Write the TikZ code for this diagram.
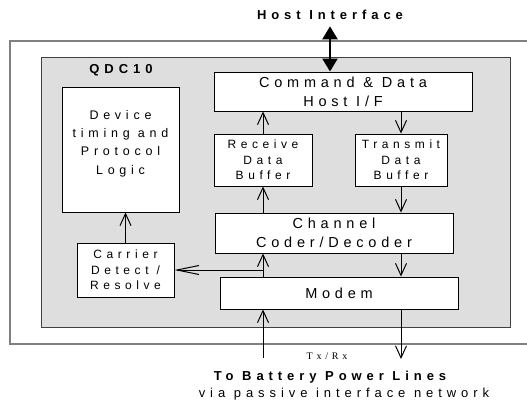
\documentclass[tikz,border=0pt]{standalone}
\usepackage{fontspec}
\setmainfont{Liberation Sans}
\newfontfamily\wide{Liberation Sans}[LetterSpace=38]
\newfontfamily\midwide{Liberation Sans}[LetterSpace=33]
\newfontfamily\widerm{Liberation Serif}[LetterSpace=38]
\usetikzlibrary{positioning,arrows.meta}

\begin{document}
\begin{tikzpicture}[x=1pt,y=-1pt,
  blk/.style={draw,fill=white,line width=0.9pt,align=center,inner sep=0pt,font=\midwide\fontsize{14.5}{18.7}\selectfont},
  sblk/.style={blk,font=\wide\fontsize{12}{15.5}\selectfont},
  lbl/.style={font=\wide\bfseries\fontsize{13}{15}\selectfont},
  flow/.style={-{Straight Barb[length=12pt,width=11pt]},line width=1pt},
  host/.style={{Triangle[length=13pt,width=15pt]}-{Triangle[length=13pt,width=15pt]},line width=2.2pt}]
\useasboundingbox (0,0) rectangle (527,404);
\fill[white] (0,0) rectangle (527,404);
\draw[black!50,line width=1.2pt,fill=white] (527,41) -- (10,41) -- (10,344) -- (527,344);
\draw[black!75,line width=0.9pt,fill=black!13] (41,57) rectangle (510,327);
\node[lbl] (qdc) at (121,70) {QDC10};
\node[lbl] (hosttxt) at (330,15) {Host Interface};
\node[blk,minimum width=258pt,minimum height=39pt] (cmd) at (343,91.5) {Command \& Data\\Host I/F};
\node[blk,minimum width=117pt,minimum height=125pt] (dev) at (120.5,149.5) {};
\node[anchor=north,align=center,font=\wide\fontsize{12.5}{18.3}\selectfont] (devtxt) at ([yshift=-20pt]dev.north) {Device\\timing and\\Protocol\\Logic};
\node[sblk,minimum width=98pt,minimum height=52pt] (rcv) at (263,160) {Receive\\Data\\Buffer};
\node[sblk,minimum width=92pt,minimum height=52pt] (xmt) at (401,160) {Transmit\\Data\\Buffer};
\node[blk,minimum width=238pt,minimum height=40pt] (chan) at (334,233) {Channel\\Coder/Decoder};
\node[sblk,minimum width=97pt,minimum height=54pt] (car) at (125.5,270) {Carrier\\Detect /\\Resolve};
\node[blk,minimum width=238pt,minimum height=32pt] (modem) at (339,293) {Modem};
\node[font=\widerm\fontsize{10}{12}\selectfont] (txrx) at (327,356) {Tx/Rx};
\node[lbl] (bat) at (330,377) {To Battery Power Lines};
\node[font=\wide\fontsize{13}{15}\selectfont] (via) at (344,394) {via passive interface network};
\coordinate (rxin) at (263,358);
\coordinate (txout) at (401,359);
\draw[host] ([yshift=-3pt]hosttxt.south) -- (hosttxt.south |- cmd.north);
\draw[flow] (rcv.north) -- (rcv.north |- cmd.south);
\draw[flow] (xmt.north |- cmd.south) -- (xmt.north);
\draw[flow] (rcv.south |- chan.north) -- (rcv.south);
\draw[flow] (xmt.south) -- (xmt.south |- chan.north);
\draw[flow] (rcv.south |- modem.north) -- (rcv.south |- chan.south);
\draw[flow] (xmt.south |- chan.south) -- (xmt.south |- modem.north);
\draw[flow,-{Straight Barb[length=22pt,width=9pt]}] (rcv.south |- car.east) -- (car.east);
\draw[flow] (car.north) -- (car.north |- dev.south);
\draw[flow] (rxin) -- (rxin |- modem.south);
\draw[flow] (txout |- modem.south) -- (txout);
\end{tikzpicture}
\end{document}
